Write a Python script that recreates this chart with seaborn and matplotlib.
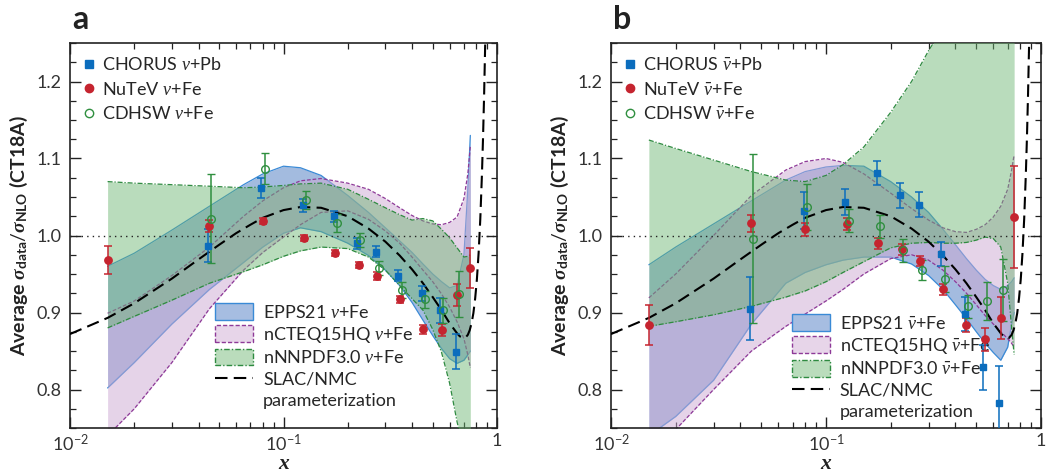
import matplotlib
matplotlib.use('Agg')
import matplotlib.pyplot as plt
from matplotlib.lines import Line2D
from matplotlib.patches import Patch
from matplotlib.ticker import FixedLocator, MultipleLocator
import seaborn as sns

band_x = [0.015, 0.02, 0.03, 0.045, 0.065, 0.08, 0.1, 0.12, 0.15, 0.2, 0.25,
          0.3, 0.35, 0.4, 0.45, 0.5, 0.55, 0.6, 0.65, 0.7, 0.73, 0.75]

# panel a (neutrino)
epps_lo_a = [0.802, 0.835, 0.885, 0.930, 0.965, 0.985, 1.003, 1.010, 1.005, 0.990, 0.974,
             0.955, 0.935, 0.913, 0.890, 0.870, 0.853, 0.840, 0.834, 0.838, 0.845, 0.850]
epps_hi_a = [0.960, 0.977, 1.007, 1.038, 1.066, 1.080, 1.090, 1.088, 1.078, 1.052, 1.030,
             1.010, 0.993, 0.978, 0.963, 0.950, 0.940, 0.932, 0.935, 0.975, 1.060, 1.130]
ncteq_lo_a = [0.740, 0.775, 0.835, 0.905, 0.955, 0.978, 0.998, 1.014, 1.030, 1.032, 1.021,
              1.006, 0.990, 0.972, 0.955, 0.940, 0.924, 0.907, 0.888, 0.866, 0.845, 0.828]
ncteq_hi_a = [0.899, 0.915, 0.948, 0.985, 1.025, 1.045, 1.062, 1.071, 1.074, 1.068, 1.060,
              1.048, 1.036, 1.026, 1.019, 1.015, 1.014, 1.017, 1.024, 1.048, 1.080, 1.116]
nnpdf_lo_a = [0.880, 0.895, 0.916, 0.938, 0.953, 0.962, 0.973, 0.980, 0.985, 0.983, 0.972,
              0.955, 0.935, 0.918, 0.903, 0.878, 0.848, 0.808, 0.758, 0.720, 0.700, 0.690]
nnpdf_hi_a = [1.070, 1.068, 1.066, 1.064, 1.062, 1.063, 1.065, 1.067, 1.068, 1.060, 1.047,
              1.036, 1.027, 1.020, 1.022, 1.019, 1.008, 0.997, 0.984, 0.972, 0.973, 0.975]

# panel b (antineutrino)
epps_lo_b = [0.740, 0.765, 0.812, 0.885, 0.938, 0.952, 0.962, 0.968, 0.972, 0.972, 0.963,
             0.948, 0.930, 0.910, 0.892, 0.875, 0.860, 0.848, 0.838, 0.855, 0.885, 0.900]
epps_hi_b = [0.962, 0.985, 1.015, 1.045, 1.072, 1.083, 1.089, 1.091, 1.090, 1.070, 1.050,
             1.030, 1.008, 0.988, 0.970, 0.955, 0.943, 0.935, 0.930, 0.935, 0.940, 0.945]
ncteq_lo_b = [0.700, 0.748, 0.800, 0.850, 0.882, 0.898, 0.915, 0.930, 0.950, 0.970, 0.975,
              0.968, 0.955, 0.940, 0.925, 0.910, 0.896, 0.885, 0.875, 0.866, 0.860, 0.855]
ncteq_hi_b = [0.919, 0.950, 1.000, 1.052, 1.085, 1.096, 1.100, 1.095, 1.080, 1.055, 1.035,
              1.020, 1.010, 1.005, 1.004, 1.008, 1.014, 1.024, 1.038, 1.060, 1.085, 1.105]
nnpdf_lo_b = [0.882, 0.888, 0.897, 0.908, 0.920, 0.928, 0.940, 0.952, 0.966, 0.984, 0.990,
              0.991, 0.990, 0.990, 0.991, 0.994, 0.998, 0.996, 0.985, 0.938, 0.880, 0.845]
nnpdf_hi_b = [1.124, 1.113, 1.098, 1.083, 1.072, 1.070, 1.078, 1.092, 1.115, 1.160, 1.200,
              1.240, 1.270, 1.290, 1.300, 1.300, 1.300, 1.300, 1.300, 1.300, 1.300, 1.300]

# SLAC/NMC parameterization curve (same in both panels)
slac_x = [0.01, 0.015, 0.02, 0.03, 0.04, 0.05, 0.06, 0.07, 0.08, 0.1, 0.12, 0.15, 0.2,
          0.25, 0.3, 0.35, 0.4, 0.45, 0.5, 0.55, 0.6, 0.65, 0.67, 0.7, 0.71, 0.73,
          0.745, 0.76, 0.775, 0.79, 0.805, 0.82, 0.835, 0.85, 0.86, 0.87, 0.88, 0.89]
slac_y = [0.872, 0.893, 0.912, 0.944, 0.969, 0.988, 1.003, 1.014, 1.023, 1.033, 1.037,
          1.036, 1.025, 1.009, 0.992, 0.974, 0.956, 0.938, 0.920, 0.903, 0.886, 0.873,
          0.869, 0.867, 0.867, 0.871, 0.877, 0.886, 0.899, 0.918, 0.943, 0.977, 1.021,
          1.079, 1.126, 1.181, 1.246, 1.322]

# data points
chorus_x = [0.0444, 0.0786, 0.123, 0.173, 0.221, 0.270, 0.344, 0.443, 0.539, 0.641]
nutev_x = [0.015, 0.045, 0.080, 0.125, 0.175, 0.225, 0.275, 0.350, 0.450, 0.550, 0.650, 0.750]
cdhsw_x = [0.046, 0.082, 0.128, 0.179, 0.229, 0.280, 0.359, 0.458, 0.559, 0.664]

chorus_y_a = [0.987, 1.062, 1.039, 1.025, 0.990, 0.979, 0.948, 0.925, 0.903, 0.849]
chorus_e_a = [0.022, 0.013, 0.008, 0.007, 0.007, 0.007, 0.007, 0.010, 0.016, 0.023]
nutev_y_a = [0.968, 1.012, 1.019, 0.997, 0.977, 0.962, 0.947, 0.917, 0.878, 0.877, 0.923, 0.958]
nutev_e_a = [0.018, 0.008, 0.004, 0.004, 0.004, 0.004, 0.005, 0.005, 0.006, 0.008, 0.014, 0.026]
cdhsw_y_a = [1.022, 1.087, 1.046, 1.016, 0.994, 0.958, 0.929, 0.917, 0.903, 0.924]
cdhsw_e_a = [0.058, 0.020, 0.012, 0.012, 0.009, 0.009, 0.010, 0.011, 0.016, 0.030]

chorus_y_b = [0.905, 1.032, 1.043, 1.081, 1.052, 1.040, 0.976, 0.898, 0.829, 0.782]
chorus_e_b = [0.041, 0.024, 0.017, 0.016, 0.016, 0.016, 0.015, 0.022, 0.029, 0.049]
nutev_y_b = [0.884, 1.016, 1.008, 1.015, 0.990, 0.982, 0.967, 0.930, 0.884, 0.865, 0.893, 1.024]
nutev_e_b = [0.026, 0.011, 0.008, 0.008, 0.007, 0.007, 0.007, 0.007, 0.009, 0.015, 0.027, 0.066]
cdhsw_y_b = [0.996, 1.037, 1.019, 1.012, 0.981, 0.955, 0.943, 0.908, 0.915, 0.929]
cdhsw_e_b = [0.110, 0.030, 0.015, 0.015, 0.015, 0.013, 0.017, 0.015, 0.025, 0.040]

# colours
BLUE = '#0b6dbd'
RED = '#c5242f'
GREEN = '#2f8f3f'
EPPS_FILL, EPPS_EDGE = '#4979c1', '#3a8ad6'
NCTEQ_FILL, NCTEQ_EDGE = '#cda9d3', '#8e3a98'
NNPDF_FILL, NNPDF_EDGE = '#6cb571', '#2e8a40'

sns.set_theme(style='ticks')
plt.rcParams['font.family'] = ['Lato', 'DejaVu Sans']
plt.rcParams['mathtext.fontset'] = 'custom'
plt.rcParams['mathtext.rm'] = 'Lato'
plt.rcParams['mathtext.it'] = 'Liberation Serif:italic'
plt.rcParams['mathtext.bf'] = 'Lato:bold'
plt.rcParams['mathtext.sf'] = 'Liberation Serif:bold:italic'

fig, axes = plt.subplots(1, 2, figsize=(10.47, 4.76), dpi=100)
axes[0].set_position([70 / 1047, 48 / 476, 427 / 1047, 385 / 476])
axes[1].set_position([611 / 1047, 48 / 476, 430 / 1047, 385 / 476])


def draw_band(ax, lo, hi, fill, edge, ls, alpha, z):
    ax.fill_between(band_x, lo, hi, color=fill, alpha=alpha, lw=0, zorder=z)
    ax.plot(band_x, lo, color=edge, ls=ls, lw=0.9, zorder=z)
    ax.plot(band_x, hi, color=edge, ls=ls, lw=0.9, zorder=z)


def draw_panel(ax, bands, pts, nu):
    draw_band(ax, bands[0], bands[1], EPPS_FILL, EPPS_EDGE, '-', 0.5, 1)
    draw_band(ax, bands[2], bands[3], NCTEQ_FILL, NCTEQ_EDGE, (0, (3, 1.5)), 0.5, 2)
    draw_band(ax, bands[4], bands[5], NNPDF_FILL, NNPDF_EDGE, (0, (4, 1.5, 1, 1.5)), 0.47, 3)

    ax.axhline(1.0, color='#222222', ls=(0, (1, 3)), lw=1.0, zorder=4)
    sns.lineplot(x=slac_x, y=slac_y, ax=ax, color='black', lw=1.5,
                 linestyle=(0, (6, 3)), sort=False, estimator=None, zorder=4.5)

    ax.errorbar(chorus_x, pts[0], yerr=pts[1], fmt='s', color=BLUE, ms=5,
                capsize=3.2, elinewidth=1.1, capthick=1.1, zorder=6)
    ax.errorbar(nutev_x, pts[2], yerr=pts[3], fmt='o', color=RED, ms=5.3,
                capsize=3.2, elinewidth=1.1, capthick=1.1, zorder=6)
    ax.errorbar(cdhsw_x, pts[4], yerr=pts[5], fmt='o', color=GREEN, mfc='none',
                mec=GREEN, mew=1.0, ms=5.5, capsize=3.2, elinewidth=1.1, capthick=1.1, zorder=6)

    ax.set_xscale('log')
    ax.set_xlim(0.01, 1)
    ax.set_ylim(0.75, 1.25)
    ax.xaxis.set_major_locator(FixedLocator([0.01, 0.1, 1]))
    ax.set_xticklabels([r'$10^{-2}$', r'$10^{-1}$', '1'])
    ax.yaxis.set_major_locator(FixedLocator([0.8, 0.9, 1.0, 1.1, 1.2]))
    ax.set_yticklabels(['0.8', '0.9', '1.0', '1.1', '1.2'])
    ax.yaxis.set_minor_locator(MultipleLocator(0.025))
    ax.tick_params(which='both', direction='in', top=True, right=True,
                   color='#222222', labelcolor='#333333', labelsize=13)
    ax.tick_params(which='major', length=8, width=1.0, pad=6)
    ax.tick_params(axis='x', which='major', pad=3.5)
    ax.tick_params(which='minor', length=4, width=0.9)
    for s in ax.spines.values():
        s.set_linewidth(1.2)
        s.set_color('#222222')
    ax.set_xlabel('x', fontsize=15.5, fontweight='bold', fontstyle='italic',
                  family='Liberation Serif', labelpad=0, color='#222222')
    ax.set_ylabel(r'Average $\mathsf{\sigma}_{\mathbf{data}}/\mathsf{\sigma}_{\mathbf{NLO}}$ (CT18A)',
                  fontsize=14, fontweight='bold', labelpad=5, color='#222222')

    marker_handles = [
        Line2D([], [], marker='s', color=BLUE, ls='none', ms=5.5),
        Line2D([], [], marker='o', color=RED, ls='none', ms=6),
        Line2D([], [], marker='o', color=GREEN, mfc='none', mew=1.0, ls='none', ms=6),
    ]
    marker_labels = ['CHORUS ' + nu + '+Pb', 'NuTeV ' + nu + '+Fe', 'CDHSW ' + nu + '+Fe']
    leg1 = ax.legend(marker_handles, marker_labels, loc='upper left',
                     bbox_to_anchor=(0.027, 0.966), frameon=False, fontsize=13,
                     handlelength=0.8, handletextpad=0.35, labelspacing=0.42,
                     borderpad=0, borderaxespad=0)
    ax.add_artist(leg1)

    band_handles = [
        Patch(facecolor='#a6bde1', edgecolor=EPPS_EDGE, lw=1.0),
        Patch(facecolor='#e7d5e9', edgecolor=NCTEQ_EDGE, lw=1.0, ls=(0, (3, 1.5))),
        Patch(facecolor='#badcbc', edgecolor=NNPDF_EDGE, lw=1.0, ls=(0, (4, 1.5, 1, 1.5))),
        Line2D([], [], color='black', lw=1.5, ls=(0, (6, 3))),
        Line2D([], [], alpha=0),
    ]
    band_labels = ['EPPS21 ' + nu + '+Fe', 'nCTEQ15HQ ' + nu + '+Fe',
                   'nNNPDF3.0 ' + nu + '+Fe', 'SLAC/NMC', 'parameterization']
    return band_handles, band_labels


h, l = draw_panel(axes[0], [epps_lo_a, epps_hi_a, ncteq_lo_a, ncteq_hi_a, nnpdf_lo_a, nnpdf_hi_a],
                  [chorus_y_a, chorus_e_a, nutev_y_a, nutev_e_a, cdhsw_y_a, cdhsw_e_a], r'$\nu$')
leg = axes[0].legend(h, l, loc='upper left', bbox_to_anchor=(0.34, 0.324), frameon=False,
                     fontsize=13, handlelength=2.1, handleheight=1.05, handletextpad=0.55,
                     labelspacing=0.22, borderpad=0, borderaxespad=0)

h, l = draw_panel(axes[1], [epps_lo_b, epps_hi_b, ncteq_lo_b, ncteq_hi_b, nnpdf_lo_b, nnpdf_hi_b],
                  [chorus_y_b, chorus_e_b, nutev_y_b, nutev_e_b, cdhsw_y_b, cdhsw_e_b], r'$\bar{\nu}$')
axes[1].legend(h, l, loc='upper left', bbox_to_anchor=(0.421, 0.295), frameon=False,
               fontsize=13, handlelength=2.1, handleheight=1.05, handletextpad=0.55,
               labelspacing=0.22, borderpad=0, borderaxespad=0)

fig.text(72 / 1047, 1 - 29 / 476, 'a', fontsize=23, fontweight='bold', color='#222222')
fig.text(613 / 1047, 1 - 29 / 476, 'b', fontsize=23, fontweight='bold', color='#222222')

fig.savefig('out.png', dpi=100)
